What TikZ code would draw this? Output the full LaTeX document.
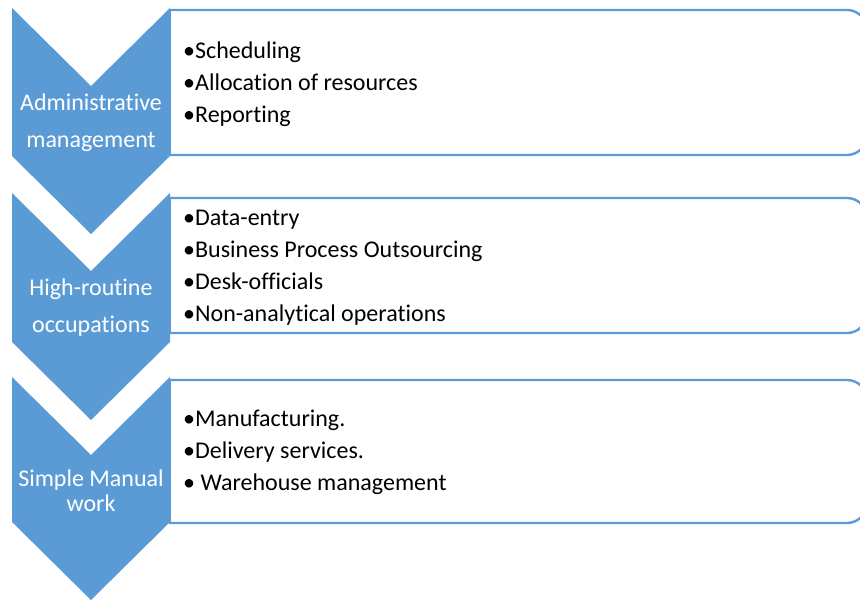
\documentclass[tikz,border=0pt]{standalone}
\usepackage{fontspec}
\setmainfont{Carlito}[Ligatures=NoCommon]
\definecolor{accent}{HTML}{5B9BD5}
\tikzset{
  chevron/.style={fill=accent, draw=none},
  listbox/.style={draw=accent, line width=2.4pt, fill=white, rounded corners=20pt},
  chevtext/.style={text=white, align=center, font=\fontsize{24}{37}\selectfont, inner sep=0pt},
  bullets/.style={text=black, align=left, anchor=west, font=\fontsize{24}{32}\selectfont, inner sep=0pt}
}
\begin{document}
\begin{tikzpicture}[x=1pt,y=-1pt]
\useasboundingbox (0,0) rectangle (860,600);
\clip (0,0) rectangle (860,600);
\fill[white] (0,0) rectangle (860,600);

% list boxes: square on the left, rounded on the right (running past the page edge)
\begin{scope}
  \clip (168.8,0) rectangle (860,600);
  \draw[listbox] (120,10) rectangle (867,155);
  \draw[listbox] (120,198) rectangle (867,333);
  \draw[listbox] (120,380) rectangle (867,523);
\end{scope}
\draw[accent, line width=2.4pt] (170,10) -- (170,155);
\draw[accent, line width=2.4pt] (170,198) -- (170,333);
\draw[accent, line width=2.4pt] (170,380) -- (170,523);

% downward chevrons
\fill[chevron] (12,8) -- (91,86) -- (170,8) -- (170,156) -- (91,234) -- (12,156) -- cycle;
\fill[chevron] (12,193) -- (91,271) -- (170,193) -- (170,342) -- (91,420) -- (12,342) -- cycle;
\fill[chevron] (12,377) -- (91,455) -- (170,377) -- (170,522) -- (91,600) -- (12,522) -- cycle;

% chevron labels
\node[chevtext] (lab1) at (91,123) {Administrative\\management};
\node[chevtext] (lab2) at (91,308) {High-routine\\occupations};
\node[chevtext, font=\fontsize{24}{25}\selectfont] (lab3) at (91,491) {Simple Manual\\work};

% bullet lists
\node[bullets] (list1) at (183,84) {•Scheduling\\•Allocation of resources\\•Reporting};
\node[bullets] (list2) at (183,268) {•Data-entry\\•Business Process Outsourcing\\•Desk-officials\\•Non-analytical operations};
\node[bullets] (list3) at (183,452) {•Manufacturing.\\•Delivery services.\\• Warehouse management};
\end{tikzpicture}
\end{document}
